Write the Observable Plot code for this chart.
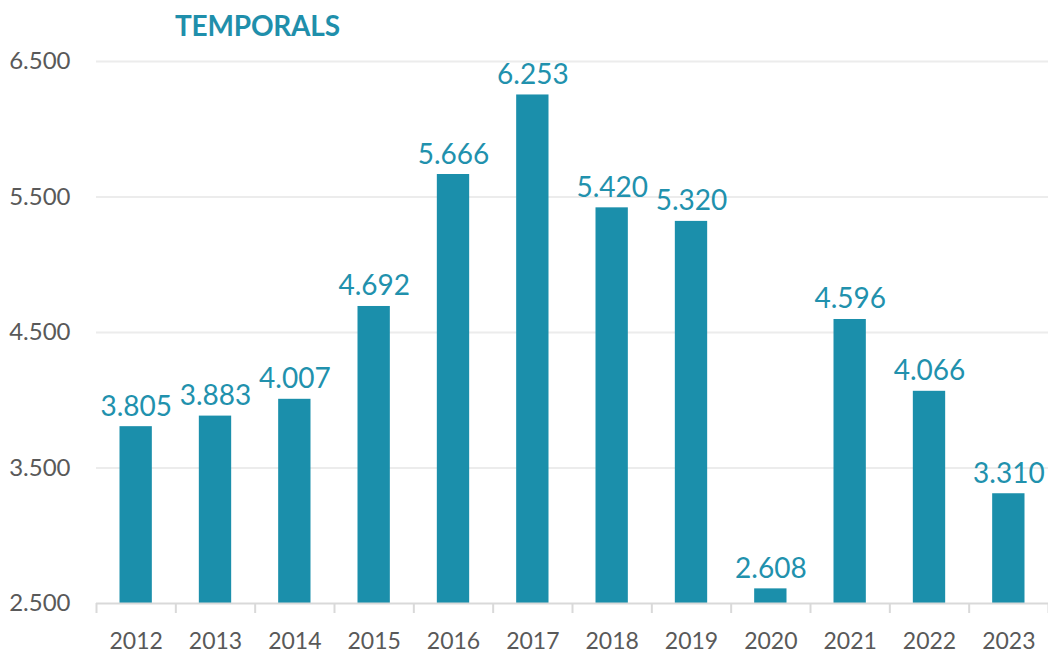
<!DOCTYPE html>
<html>
<head>
<meta charset="utf-8">
<script src="https://cdn.jsdelivr.net/npm/d3@7"></script>
<script src="https://cdn.jsdelivr.net/npm/@observablehq/plot@0.6"></script>
<style>
  html, body { margin: 0; padding: 0; background: #ffffff; }
  #wrap { position: relative; width: 1048px; height: 657px; font-family: Lato, "Open Sans", sans-serif; }
  #title { position: absolute; left: 175px; top: 8px; font-size: 28px; font-weight: 700; color: #1f8fab; letter-spacing: -0.2px; }
</style>
</head>
<body>
<div id="wrap">
  <div id="chart"></div>
  <div id="title">TEMPORALS</div>
</div>
<script>
const years = [2012, 2013, 2014, 2015, 2016, 2017, 2018, 2019, 2020, 2021, 2022, 2023];
const values = [3805, 3883, 4007, 4692, 5666, 6253, 5420, 5320, 2608, 4596, 4066, 3310];
const yTicks = [2500, 3500, 4500, 5500, 6500];
const yMin = 2500, yMax = 6500;

const data = years.map((year, i) => ({year, value: values[i]}));
const boundaries = years.map(y => y - 0.5).concat([years[years.length - 1] + 0.5]);

const loc = d3.formatLocale({decimal: ",", thousands: ".", grouping: [3], currency: ["", "€"]});
const fmt = loc.format(",");

const teal = "#1b8fab";
const grey = "#595959";

const chart = Plot.plot({
  width: 1048,
  height: 657,
  marginTop: 61,
  marginBottom: 54,
  marginLeft: 96,
  marginRight: 0,
  style: {fontFamily: "Lato, 'Open Sans', sans-serif", background: "#ffffff", overflow: "visible"},
  x: {type: "linear", domain: [boundaries[0], boundaries[boundaries.length - 1]]},
  y: {domain: [yMin, yMax]},
  marks: [
    Plot.ruleY(yTicks.filter(t => t !== yMin), {stroke: "#ececec", strokeWidth: 2}),
    Plot.rectY(data, {
      x1: d => d.year - 0.5,
      x2: d => d.year + 0.5,
      y1: yMin,
      y2: "value",
      fill: teal,
      insetLeft: 23.5,
      insetRight: 23.5
    }),
    Plot.ruleY([yMin], {stroke: "#d9d9d9", strokeWidth: 2}),
    Plot.axisX(boundaries, {tickSize: 10, tickFormat: () => "", stroke: "#d9d9d9", strokeWidth: 2, label: null}),
    Plot.axisX(years, {tickSize: 0, tickPadding: 29, tickFormat: d => String(d), fontSize: 23, fill: grey, label: null}),
    Plot.axisY(yTicks, {tickSize: 0, tickPadding: 26, tickFormat: fmt, fontSize: 24, fill: grey, label: null}),
    Plot.text(data, {
      x: "year",
      y: "value",
      text: d => fmt(d.value),
      lineAnchor: "bottom",
      dy: -11,
      fill: "#2191ad",
      fontSize: 28
    })
  ]
});
document.getElementById("chart").appendChild(chart);
</script>
</body>
</html>
